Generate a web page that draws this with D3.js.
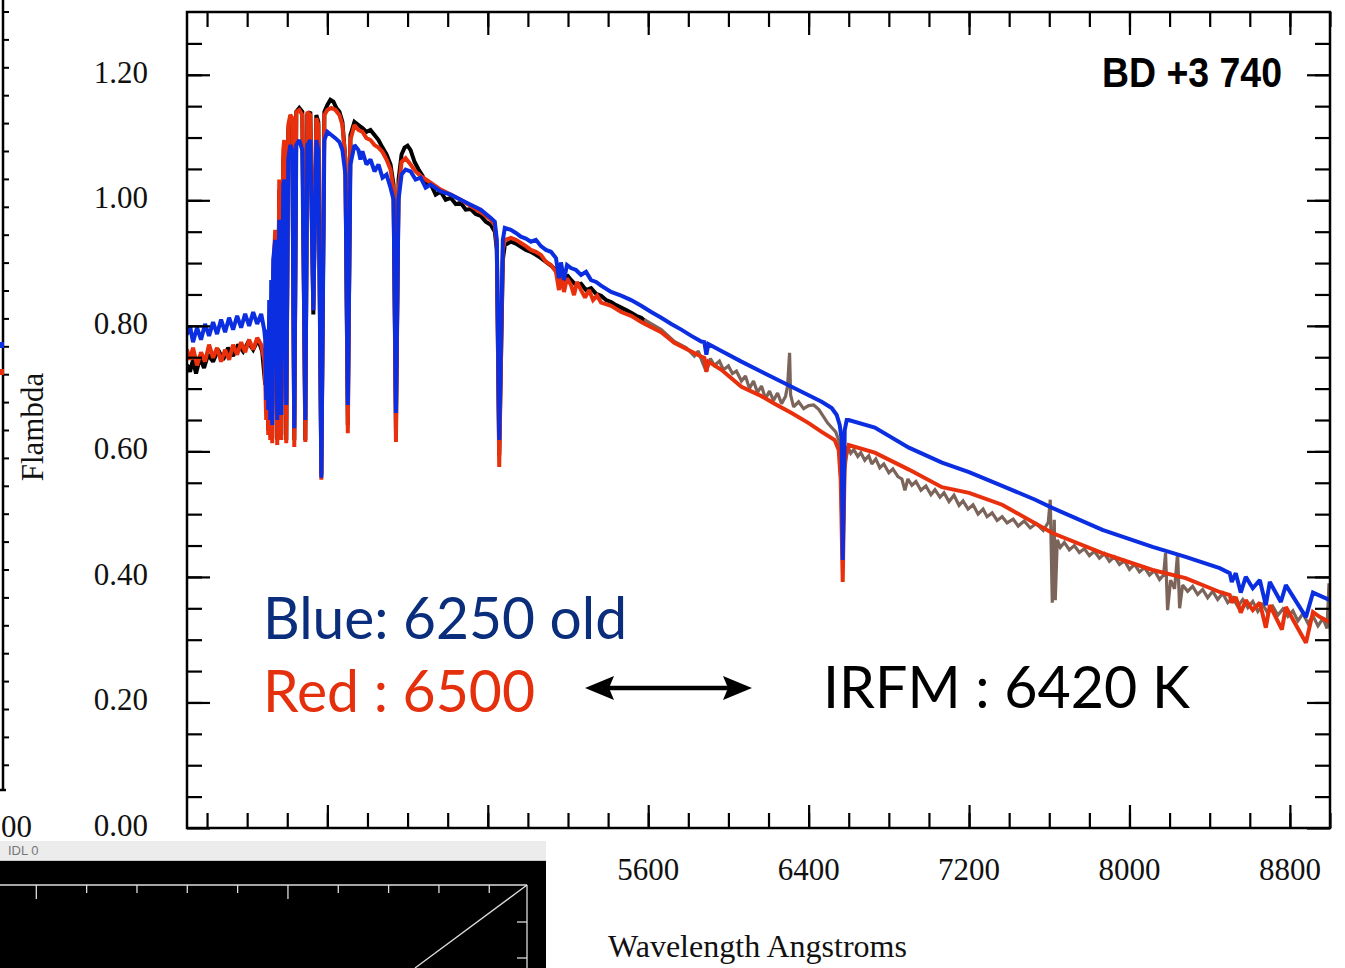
<!DOCTYPE html>
<html><head><meta charset="utf-8">
<script src="https://cdn.jsdelivr.net/npm/d3@7"></script>
<style>body{margin:0;background:#fff;} svg{display:block}</style>
</head><body><svg id="c" width="1345" height="968"></svg>
<script>
// ---------------- data (wavelength Å, Flambda) ----------------
const modelBlue6250 = [[3300,0.786],[3315,0.800],[3330,0.774],[3350,0.797],[3370,0.778],[3390,0.803],[3410,0.784],[3430,0.806],[3450,0.787],[3470,0.810],[3490,0.790],[3510,0.813],[3530,0.794],[3550,0.816],[3570,0.797],[3590,0.819],[3610,0.800],[3630,0.822],[3650,0.803],[3670,0.819],[3685,0.794],
[3690,0.778],[3695,0.682],[3700,0.794],[3705,0.666],[3710,0.841],[3715,0.650],[3720,0.873],[3725,0.642],[3730,0.905],[3740,0.937],[3750,0.650],[3760,0.969],[3770,0.658],[3780,1.025],[3785,1.033],[3795,0.674],[3805,1.065],[3815,1.088],[3825,1.080],[3835,0.637],[3845,1.088],[3860,1.096],[3875,1.080],[3890,0.650],[3900,1.088],[3915,1.096],[3930,0.825],[3945,1.096],[3955,1.080],[3970,0.558],[3985,1.096],[4000,1.109],[4020,1.104],[4040,1.099],[4060,1.093],[4075,1.080],[4090,1.041],[4102,0.674],[4115,1.057],[4135,1.088],[4155,1.080],[4165,1.065],[4175,1.078],[4195,1.057],[4215,1.065],[4235,1.046],[4255,1.057],[4275,1.036],[4295,1.041],[4315,1.020],[4330,1.001],[4342,0.661],[4355,1.001],[4370,1.041],[4390,1.049],[4415,1.046],[4440,1.033],[4465,1.036],[4490,1.020],[4515,1.025],[4565,1.014],[4615,1.009],[4665,1.001],[4715,0.993],[4765,0.985],[4815,0.972],[4835,0.966],[4845,0.937],[4857,0.618],[4875,0.937],[4885,0.956],[4915,0.953],[4940,0.948],[4965,0.942],[4990,0.939],[5015,0.934],[5040,0.937],[5065,0.927],[5090,0.921],[5115,0.918],[5140,0.908],[5155,0.876],[5165,0.901],[5180,0.873],[5195,0.897],[5215,0.892],[5240,0.889],[5265,0.881],[5290,0.886],[5315,0.873],[5340,0.870],[5365,0.864],[5415,0.854],[5465,0.848],[5515,0.841],[5565,0.832],[5615,0.822],[5665,0.813],[5715,0.803],[5765,0.794],[5815,0.784],[5865,0.775],[5880,0.774],[5890,0.754],[5900,0.771],[5965,0.760],[6065,0.743],[6165,0.727],[6265,0.711],[6365,0.695],[6465,0.679],[6515,0.669],[6540,0.658],[6555,0.642],[6565,0.618],[6570,0.427],[6580,0.634],[6590,0.650],[6600,0.650],[6730,0.638],[6900,0.606],[7065,0.582],[7200,0.567],[7365,0.545],[7530,0.523],[7615,0.510],[7865,0.475],[8115,0.448],[8280,0.432],[8450,0.414],[8500,0.406],[8510,0.392],[8530,0.406],[8555,0.375],[8580,0.400],[8615,0.382],[8650,0.395],[8680,0.355],[8700,0.392],[8755,0.360],[8780,0.387],[8880,0.336],[8915,0.375],[9000,0.363]];

const modelRed6500 = [[3300,0.762],[3315,0.746],[3330,0.765],[3350,0.737],[3370,0.758],[3390,0.743],[3410,0.770],[3430,0.749],[3450,0.765],[3470,0.743],[3490,0.762],[3510,0.746],[3530,0.770],[3550,0.754],[3570,0.774],[3590,0.758],[3610,0.778],[3630,0.762],[3650,0.781],[3670,0.770],[3685,0.746],
[3690,0.714],[3695,0.650],[3700,0.746],[3705,0.626],[3710,0.794],[3715,0.618],[3720,0.841],[3725,0.613],[3730,0.889],[3740,0.953],[3750,0.610],[3760,1.033],[3770,0.618],[3780,1.080],[3785,1.096],[3795,0.613],[3805,1.120],[3815,1.136],[3825,1.131],[3835,0.607],[3845,1.141],[3860,1.144],[3875,1.136],[3890,0.615],[3900,1.141],[3915,1.136],[3930,0.825],[3945,1.131],[3955,1.120],[3970,0.555],[3985,1.136],[4000,1.144],[4020,1.147],[4040,1.144],[4060,1.136],[4075,1.120],[4090,1.065],[4102,0.629],[4115,1.096],[4135,1.120],[4155,1.112],[4175,1.109],[4195,1.099],[4215,1.096],[4235,1.088],[4255,1.084],[4275,1.077],[4295,1.065],[4315,1.049],[4330,1.017],[4342,0.615],[4355,1.017],[4370,1.061],[4390,1.067],[4415,1.057],[4440,1.046],[4465,1.039],[4515,1.028],[4565,1.017],[4615,1.009],[4665,1.001],[4715,0.991],[4765,0.981],[4815,0.969],[4835,0.960],[4845,0.929],[4857,0.575],[4875,0.921],[4885,0.937],[4915,0.940],[4940,0.937],[4965,0.932],[4990,0.927],[5015,0.921],[5040,0.918],[5065,0.913],[5090,0.902],[5115,0.897],[5140,0.886],[5155,0.857],[5165,0.881],[5180,0.854],[5195,0.876],[5215,0.865],[5230,0.849],[5245,0.870],[5265,0.857],[5285,0.845],[5305,0.857],[5325,0.841],[5345,0.848],[5365,0.837],[5415,0.832],[5465,0.822],[5515,0.816],[5565,0.806],[5615,0.798],[5665,0.790],[5730,0.773],[5815,0.759],[5865,0.751],[5880,0.749],[5890,0.727],[5900,0.743],[5965,0.730],[6065,0.703],[6165,0.688],[6230,0.676],[6315,0.661],[6400,0.645],[6465,0.631],[6530,0.618],[6550,0.602],[6560,0.555],[6570,0.392],[6580,0.586],[6600,0.610],[6730,0.598],[6900,0.571],[7065,0.543],[7200,0.534],[7365,0.515],[7615,0.470],[7865,0.438],[8115,0.411],[8280,0.398],[8450,0.376],[8500,0.371],[8510,0.359],[8530,0.368],[8555,0.343],[8580,0.363],[8615,0.347],[8650,0.359],[8680,0.319],[8700,0.355],[8760,0.316],[8780,0.352],[8880,0.295],[8915,0.344],[8950,0.336],[9000,0.328]];

const observedBlue = [[3300,0.738],[3315,0.727],[3330,0.746],[3345,0.724],[3365,0.749],[3385,0.733],[3405,0.754],[3430,0.743],[3455,0.762],[3480,0.746],[3505,0.765],[3530,0.752],[3555,0.770],[3580,0.759],[3605,0.774],[3630,0.762],[3655,0.778],[3675,0.759],
[3690,0.706],[3700,0.730],[3705,0.634],[3710,0.778],[3715,0.626],[3720,0.825],[3725,0.621],[3730,0.873],[3740,0.937],[3750,0.618],[3760,1.017],[3770,0.626],[3780,1.065],[3785,1.080],[3795,0.618],[3805,1.112],[3815,1.131],[3825,1.128],[3835,0.618],[3845,1.141],[3860,1.147],[3875,1.141],[3890,0.618],[3900,1.136],[3915,1.141],[3930,0.818],[3945,1.136],[3955,1.125],[3970,0.563],[3985,1.141],[4000,1.152],[4015,1.160],[4030,1.157],[4045,1.147],[4060,1.141],[4075,1.125],[4090,1.065],[4102,0.642],[4115,1.104],[4135,1.125],[4155,1.120],[4175,1.115],[4195,1.109],[4215,1.112],[4235,1.104],[4255,1.096],[4275,1.084],[4295,1.073],[4315,1.057],[4330,1.025],[4342,0.634],[4355,1.033],[4370,1.073],[4385,1.084],[4400,1.087],[4415,1.080],[4435,1.061],[4455,1.049],[4475,1.039],[4495,1.023],[4515,1.026],[4540,1.009],[4565,1.014],[4590,1.001],[4615,1.004],[4640,0.994],[4665,0.996],[4690,0.985],[4715,0.986],[4740,0.978],[4765,0.975],[4790,0.966],[4815,0.961],[4835,0.950],[4845,0.921],[4857,0.594],[4875,0.905],[4885,0.929],[4915,0.934],[4940,0.931],[4965,0.926],[4990,0.921],[5015,0.918],[5040,0.913],[5065,0.908],[5090,0.902],[5115,0.896],[5140,0.889],[5155,0.870],[5165,0.886],[5180,0.865],[5195,0.881],[5215,0.873],[5240,0.865],[5265,0.867],[5290,0.857],[5315,0.860],[5340,0.851],[5365,0.848],[5390,0.841],[5415,0.838],[5440,0.833],[5465,0.829],[5490,0.825],[5515,0.821],[5540,0.816],[5565,0.813],[5590,0.806]];

const observedRed = [[5580,0.810],[5665,0.794],[5730,0.775],[5790,0.765],[5830,0.752],[5850,0.760],[5870,0.742],[5890,0.727],[5910,0.748],[5930,0.737],[5955,0.744],[5975,0.730],[6000,0.736],[6020,0.724],[6040,0.728],[6065,0.712],[6085,0.720],[6105,0.700],[6125,0.712],[6145,0.694],[6165,0.704],[6185,0.684],[6205,0.696],[6225,0.681],[6245,0.693],[6265,0.676],[6285,0.688],[6295,0.704],[6305,0.757],[6310,0.690],[6325,0.671],[6350,0.679],[6375,0.668],[6400,0.673],[6425,0.674],[6450,0.667],[6475,0.655],[6495,0.645],[6515,0.638],[6535,0.631],[6550,0.618],[6560,0.555],[6570,0.427],[6580,0.570],[6595,0.608],[6610,0.597],[6625,0.603],[6645,0.592],[6660,0.598],[6680,0.586],[6700,0.593],[6715,0.580],[6735,0.588],[6755,0.574],[6775,0.580],[6800,0.566],[6820,0.572],[6845,0.560],[6865,0.556],[6880,0.538],[6895,0.556],[6915,0.546],[6935,0.552],[6960,0.538],[6985,0.545],[7010,0.531],[7030,0.539],[7055,0.527],[7075,0.534],[7100,0.520],[7125,0.530],[7150,0.514],[7170,0.521],[7195,0.508],[7220,0.515],[7245,0.500],[7270,0.508],[7290,0.496],[7315,0.502],[7340,0.490],[7365,0.496],[7390,0.486],[7420,0.492],[7445,0.481],[7475,0.489],[7505,0.478],[7535,0.485],[7570,0.474],[7595,0.487],[7605,0.523],[7615,0.359],[7625,0.491],[7630,0.363],[7640,0.459],[7655,0.447],[7675,0.455],[7700,0.443],[7725,0.450],[7750,0.439],[7775,0.445],[7800,0.434],[7825,0.441],[7850,0.430],[7875,0.437],[7900,0.425],[7925,0.432],[7950,0.420],[7975,0.426],[8000,0.412],[8025,0.420],[8050,0.408],[8075,0.415],[8100,0.403],[8125,0.410],[8150,0.396],[8170,0.403],[8180,0.438],[8190,0.347],[8205,0.395],[8225,0.381],[8240,0.438],[8250,0.350],[8265,0.387],[8290,0.377],[8315,0.385],[8340,0.372],[8365,0.380],[8390,0.367],[8415,0.377],[8440,0.364],[8465,0.374],[8490,0.359],[8515,0.367],[8540,0.353],[8565,0.364],[8590,0.351],[8615,0.361],[8640,0.345],[8665,0.356],[8690,0.342],[8715,0.353],[8740,0.339],[8765,0.349],[8790,0.337],[8815,0.346],[8840,0.330],[8865,0.342],[8890,0.326],[8915,0.338],[8940,0.322],[8965,0.334],[8985,0.318],[8995,0.390],[9005,0.279]];

// ticks
const xMajorTicks = [4000,4800,5600,6400,7200,8000,8800];
const xMinorTicks = d3.range(3400, 9001, 200);
const yMajorTicks = [0,0.2,0.4,0.6,0.8,1.0,1.2];
const yMinorTicks = d3.range(0.05, 1.3, 0.05);

// ---------------- layout ----------------
const svg = d3.select('#c');
svg.append('rect').attr('width',1345).attr('height',968).attr('fill','#fff');
const L=187, R=1330, T=12, B=828;
const x = d3.scaleLinear().domain([3300,9000]).range([L,R]);
const y = d3.scaleLinear().domain([0,1.3]).range([B,T]);

svg.append('clipPath').attr('id','clip').append('rect').attr('x',L).attr('y',T).attr('width',R-L).attr('height',B-T);

const line = d3.line().x(d=>x(d[0])).y(d=>y(d[1])).curve(d3.curveLinear);
const series = [
  {data: observedBlue, color:'#000000', w:4},
  {data: observedRed, color:'#7b645a', w:3.2},
  {data: modelRed6500, color:'#e8300c', w:4},
  {data: modelBlue6250, color:'#0b2ee0', w:4}
];
const gc = svg.append('g').attr('clip-path','url(#clip)');
series.forEach(s=>{
  gc.append('path').attr('d', line(s.data)).attr('fill','none')
    .attr('stroke', s.color).attr('stroke-width', s.w).attr('stroke-linejoin','miter').attr('stroke-miterlimit',2);
});

// frame
svg.append('rect').attr('x',L).attr('y',T).attr('width',R-L).attr('height',B-T)
  .attr('fill','none').attr('stroke','#000').attr('stroke-width',2.5);

function tickAxis(gen, tr){
  const g = svg.append('g').attr('transform',tr).call(gen);
  g.select('.domain').remove();
  g.selectAll('text').remove();
  g.selectAll('line').attr('stroke','#000').attr('stroke-width',2.2);
}
tickAxis(d3.axisLeft(y).tickValues(yMinorTicks).tickSize(-15), `translate(${L},0)`);
tickAxis(d3.axisLeft(y).tickValues(yMajorTicks).tickSize(-23), `translate(${L},0)`);
tickAxis(d3.axisRight(y).tickValues(yMinorTicks).tickSize(-15), `translate(${R},0)`);
tickAxis(d3.axisRight(y).tickValues(yMajorTicks).tickSize(-23), `translate(${R},0)`);
tickAxis(d3.axisBottom(x).tickValues(xMinorTicks).tickSize(-15), `translate(0,${B})`);
tickAxis(d3.axisBottom(x).tickValues(xMajorTicks).tickSize(-23), `translate(0,${B})`);
tickAxis(d3.axisTop(x).tickValues(xMinorTicks).tickSize(-15), `translate(0,${T})`);
tickAxis(d3.axisTop(x).tickValues(xMajorTicks).tickSize(-23), `translate(0,${T})`);

const serif = "'Liberation Serif','DejaVu Serif',serif";
svg.selectAll('.ylab').data(yMajorTicks).enter().append('text')
  .attr('x',148).attr('y',d=>y(d)+8).attr('text-anchor','end')
  .attr('font-family',serif).attr('font-size',31).attr('fill','#111')
  .text(d=>d3.format('.2f')(d));
svg.selectAll('.xlab').data(xMajorTicks).enter().append('text')
  .attr('x',d=>x(d)).attr('y',880).attr('text-anchor','middle')
  .attr('font-family',serif).attr('font-size',31).attr('fill','#111')
  .text(d=>d);
svg.append('text').attr('x',608).attr('y',957).attr('font-family',serif).attr('font-size',31)
  .attr('textLength',299).attr('lengthAdjust','spacingAndGlyphs')
  .attr('fill','#111').text('Wavelength Angstroms');
svg.append('text').attr('transform','translate(43,427) rotate(-90)').attr('text-anchor','middle')
  .attr('font-family',serif).attr('font-size',31).attr('fill','#111').text('Flambda');

// star name
svg.append('text').attr('x',1102).attr('y',87).attr('font-family',"'Liberation Sans',Arial,sans-serif")
  .attr('font-weight','bold').attr('font-size',42).attr('textLength',180).attr('lengthAdjust','spacingAndGlyphs')
  .attr('fill','#000').text('BD +3 740');

// annotations
const sans = "Lato,'Open Sans',sans-serif";
svg.append('text').attr('x',263).attr('y',639).attr('font-family',sans).attr('font-size',58)
  .attr('textLength',364).attr('lengthAdjust','spacingAndGlyphs').attr('fill','#0a2d7c').text('Blue: 6250 old');
svg.append('text').attr('x',263).attr('y',712).attr('font-family',sans).attr('font-size',58)
  .attr('textLength',272).attr('lengthAdjust','spacingAndGlyphs').attr('fill','#e5300e').text('Red : 6500');
svg.append('text').attr('x',823).attr('y',708).attr('font-family',sans).attr('font-size',58)
  .attr('textLength',367).attr('lengthAdjust','spacingAndGlyphs').attr('fill','#000').text('IRFM : 6420 K');
// double arrow
const ay=688;
svg.append('line').attr('x1',606).attr('x2',731).attr('y1',ay).attr('y2',ay).attr('stroke','#000').attr('stroke-width',4.5);
svg.append('path').attr('d',`M585,${ay} L614,${ay-12} L609,${ay} L614,${ay+12} Z`).attr('fill','#000');
svg.append('path').attr('d',`M752,${ay} L723,${ay-12} L728,${ay} L723,${ay+12} Z`).attr('fill','#000');

// left fragment of a neighbouring plot
svg.append('line').attr('x1',3).attr('x2',3).attr('y1',0).attr('y2',790).attr('stroke','#000').attr('stroke-width',2.5);
svg.append('line').attr('x1',0).attr('x2',6).attr('y1',790).attr('y2',790).attr('stroke','#000').attr('stroke-width',2.5);
d3.range(12, 785, 27.9).forEach(v=>{
  svg.append('line').attr('x1',3).attr('x2',9).attr('y1',v).attr('y2',v).attr('stroke','#000').attr('stroke-width',2);
});
svg.append('rect').attr('x',0).attr('y',342).attr('width',4).attr('height',6).attr('fill','#0b2ee0');
svg.append('rect').attr('x',0).attr('y',369).attr('width',4).attr('height',6).attr('fill','#e8300c');
svg.append('text').attr('x',1).attr('y',837).attr('font-family',serif).attr('font-size',31).attr('fill','#111').text('00');

// IDL window overlay
svg.append('rect').attr('x',0).attr('y',841).attr('width',546).attr('height',20).attr('fill','#ececec');
svg.append('line').attr('x1',0).attr('x2',546).attr('y1',860.5).attr('y2',860.5).attr('stroke','#c8c8c8');
svg.append('text').attr('x',8).attr('y',855).attr('font-family',"'Liberation Sans',Arial,sans-serif").attr('font-size',13)
  .attr('fill','#777').text('IDL 0');
svg.append('rect').attr('x',0).attr('y',861).attr('width',546).attr('height',107).attr('fill','#000');
const idlX = d3.scaleLinear().domain([0,10.75]).range([-14,527]);
svg.append('line').attr('x1',0).attr('x2',527).attr('y1',885).attr('y2',885).attr('stroke','#ddd').attr('stroke-width',1.3);
svg.append('line').attr('x1',527).attr('x2',527).attr('y1',885).attr('y2',968).attr('stroke','#ddd').attr('stroke-width',1.3);
[1,2,3,4,5,6,7,8,9,10].forEach(i=>{
  const major = (i===1||i===6);
  svg.append('line').attr('x1',idlX(i)).attr('x2',idlX(i)).attr('y1',885).attr('y2',major?899:893)
    .attr('stroke','#ddd').attr('stroke-width',1.3);
});
[922,958].forEach(v=>svg.append('line').attr('x1',517).attr('x2',527).attr('y1',v).attr('y2',v).attr('stroke','#ddd').attr('stroke-width',1.3));
svg.append('line').attr('x1',527).attr('y1',885).attr('x2',415).attr('y2',968).attr('stroke','#ddd').attr('stroke-width',1.3);
</script>
</body></html>
